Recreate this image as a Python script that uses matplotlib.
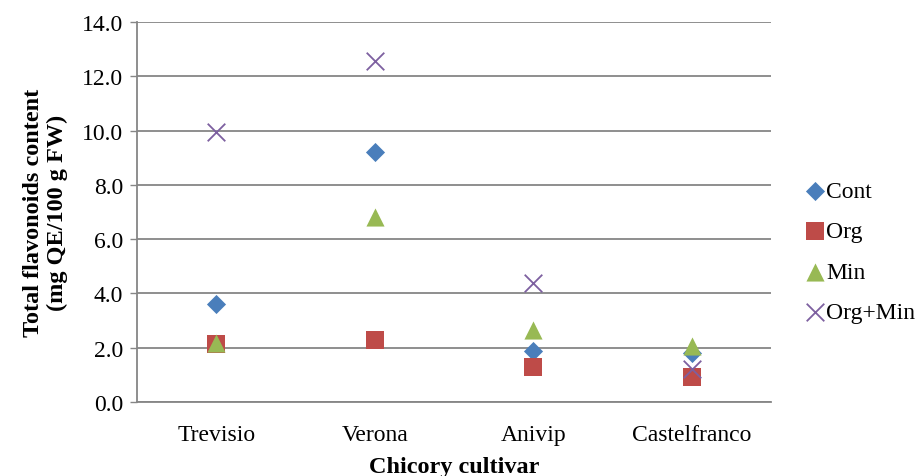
import matplotlib
matplotlib.use("Agg")
import matplotlib.pyplot as plt

cultivars = ["Trevisio", "Verona", "Anivip", "Castelfranco"]
cont = [3.62, 9.22, 1.88, 1.82]
org = [2.12, 2.27, 1.28, 0.93]
mins = [2.17, 6.83, 2.65, 2.08]
org_min = [9.95, 12.57, 4.37, 1.22]
yticks = [0, 2, 4, 6, 8, 10, 12, 14]

plt.rcParams['font.family'] = ['Liberation Serif', 'DejaVu Serif']

fig = plt.figure(figsize=(9.21, 4.77), dpi=100)
ax = fig.add_axes([0.1488, 0.1551, 0.837 - 0.1488, 0.9518 - 0.1551])

x = list(range(len(cultivars)))
ax.scatter(x, cont, marker='D', s=95, color='#4a7ebb', label='Cont', zorder=3, linewidths=0)
ax.scatter(x, org, marker='s', s=150, color='#be4b48', label='Org', zorder=3, linewidths=0)
ax.scatter(x, mins, marker='^', s=170, color='#98b954', label='Min', zorder=3, linewidths=0)
ax.scatter(x, org_min, marker='x', s=160, color='#7d60a0', label='Org+Min', zorder=3, linewidths=1.3)

ax.set_xlim(-0.5, 3.5)
ax.set_ylim(0, 14)
ax.set_yticks(yticks)
ax.set_yticklabels([f"{v:.1f}" for v in yticks])
ax.set_xticks(x)
ax.set_xticklabels(cultivars)
ax.tick_params(axis='x', length=0, pad=16, labelsize=17)
ax.tick_params(axis='y', length=5, width=1, color='#868686', labelsize=17, pad=5)

ax.yaxis.grid(True, color='#868686', linewidth=1.3)
ax.set_axisbelow(True)
for s in ['top', 'right']:
    ax.spines[s].set_visible(False)
for s in ['left', 'bottom']:
    ax.spines[s].set_color('#868686')
    ax.spines[s].set_linewidth(1.3)

ax.set_xlabel("Chicory cultivar", fontsize=17.5, fontweight='bold', labelpad=8)
ax.set_ylabel("Total flavonoids content\n(mg QE/100 g FW)", fontsize=17.5, fontweight='bold', labelpad=10)

leg = ax.legend(loc='center left', bbox_to_anchor=(1.02, 0.395), frameon=False,
                fontsize=17, handletextpad=-0.2, labelspacing=0.8, handlelength=1.3,
                scatterpoints=1, borderaxespad=0.3)

fig.savefig("out.png", dpi=100)
